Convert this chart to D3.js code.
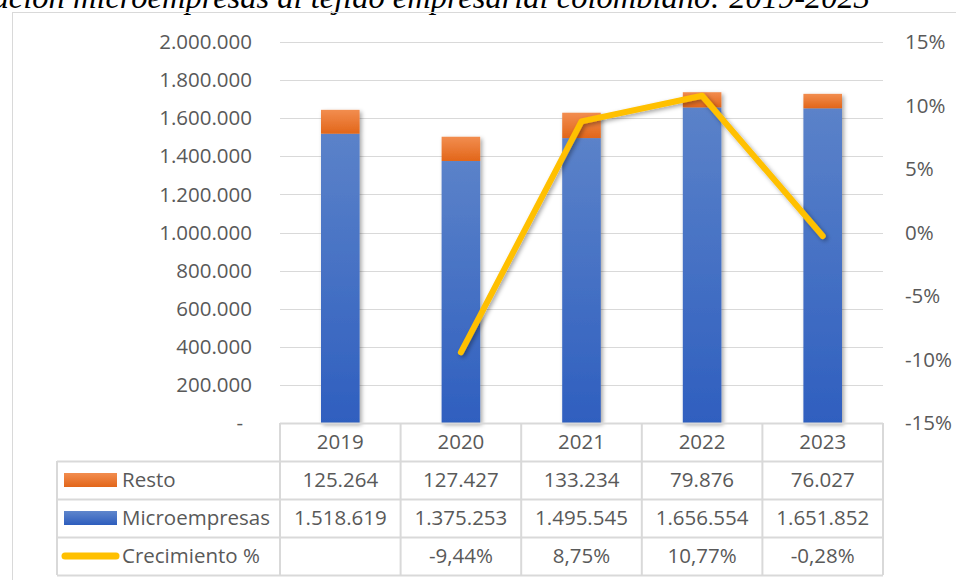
<!DOCTYPE html>
<html>
<head>
<meta charset="utf-8">
<script src="https://cdn.jsdelivr.net/npm/d3@7"></script>
<style>
  body { margin: 0; background: #fff; }
  text { font-family: "Open Sans", Lato, sans-serif; fill: #595959; }
</style>
</head>
<body>
<svg id="chart" width="956" height="580"></svg>
<script>
// Datos del gráfico
var years = ["2019", "2020", "2021", "2022", "2023"];
var resto = [125264, 127427, 133234, 79876, 76027];
var micro = [1518619, 1375253, 1495545, 1656554, 1651852];
var crecimiento = [null, -9.44, 8.75, 10.77, -0.28];
var leftTicks = [0, 200000, 400000, 600000, 800000, 1000000, 1200000, 1400000, 1600000, 1800000, 2000000];
var rightTicks = [-15, -10, -5, 0, 5, 10, 15];
var seriesNames = ["Resto", "Microempresas", "Crecimiento %"];

var locale = d3.formatLocale({decimal: ",", thousands: ".", grouping: [3], currency: ["$", ""], minus: "-"});
var fmtNum = locale.format(",d");
var fmtPct = function(v) { return v == null ? "" : locale.format(",.2f")(v) + "%"; };

var svg = d3.select("#chart");
var fontSize = 20.5;

// Escalas
var plot = {left: 280, right: 883, top: 42, bottom: 423};
var x = d3.scaleBand().domain(years).range([plot.left, plot.right]).padding(0);
var yL = d3.scaleLinear().domain([0, 2000000]).range([plot.bottom, plot.top]);
var yR = d3.scaleLinear().domain([-15, 15]).range([plot.bottom, plot.top]);
var barWidth = x.bandwidth() * 0.32;

// Gradientes y sombras
var defs = svg.append("defs");
function grad(id, c1, c2) {
  var g = defs.append("linearGradient").attr("id", id)
    .attr("x1", 0).attr("y1", 0).attr("x2", 0).attr("y2", 1);
  g.append("stop").attr("offset", "0%").attr("stop-color", c1);
  g.append("stop").attr("offset", "100%").attr("stop-color", c2);
}
grad("gMicro", "#5f86cc", "#2d5dbd");
grad("gResto", "#f28d4f", "#e2661a");
grad("gMicroBar", "#5b82c9", "#2f5fbf");
var f = defs.append("filter").attr("id", "shadow")
  .attr("x", "-30%").attr("y", "-30%").attr("width", "160%").attr("height", "160%");
f.append("feDropShadow").attr("dx", 2).attr("dy", 2).attr("stdDeviation", 2)
  .attr("flood-color", "#000").attr("flood-opacity", 0.35);

// Título (cortado arriba)
svg.append("text")
  .attr("x", 870).attr("y", 8)
  .attr("text-anchor", "end")
  .style("font-family", "'Liberation Serif', 'Times New Roman', serif")
  .style("font-style", "italic")
  .style("font-size", "32.5px")
  .style("fill", "#000")
  .text("Evolución microempresas al tejido empresarial colombiano: 2019-2023");

// Borde del área del gráfico
svg.append("rect")
  .attr("x", 12.5).attr("y", 12.5).attr("width", 1000).attr("height", 600)
  .attr("fill", "none").attr("stroke", "#d9d9d9");

// Líneas de cuadrícula
svg.append("g").selectAll("line")
  .data(leftTicks.filter(function(d) { return d > 0; }))
  .enter().append("line")
  .attr("x1", plot.left).attr("x2", plot.right)
  .attr("y1", function(d) { return Math.round(yL(d)) + 0.5; })
  .attr("y2", function(d) { return Math.round(yL(d)) + 0.5; })
  .attr("stroke", "#d9d9d9").attr("stroke-width", 1);

// Etiquetas eje izquierdo
svg.append("g").selectAll("text")
  .data(leftTicks)
  .enter().append("text")
  .attr("x", function(d) { return d === 0 ? 243 : 252; })
  .attr("y", function(d) { return yL(d); })
  .attr("dy", "0.35em")
  .attr("text-anchor", "end")
  .style("font-size", fontSize + "px")
  .text(function(d) { return d === 0 ? "-" : fmtNum(d); });

// Etiquetas eje derecho
svg.append("g").selectAll("text")
  .data(rightTicks)
  .enter().append("text")
  .attr("x", 905)
  .attr("y", function(d) { return yR(d); })
  .attr("dy", "0.35em")
  .style("font-size", fontSize + "px")
  .text(function(d) { return d + "%"; });

// Barras apiladas
var rows = years.map(function(y, i) { return {year: y, Microempresas: micro[i], Resto: resto[i]}; });
var stacked = d3.stack().keys(["Microempresas", "Resto"])(rows);
var fills = {Microempresas: "url(#gMicroBar)", Resto: "url(#gResto)"};

var gBars = svg.append("g").attr("filter", "url(#shadow)");
stacked.forEach(function(s) {
  gBars.selectAll(".bar-" + s.key)
    .data(s)
    .enter().append("rect")
    .attr("x", function(d) { return x(d.data.year) + x.bandwidth() / 2 - barWidth / 2; })
    .attr("y", function(d) { return yL(d[1]); })
    .attr("width", barWidth)
    .attr("height", function(d) { return yL(d[0]) - yL(d[1]); })
    .attr("fill", fills[s.key]);
});

// Línea de crecimiento
var lineData = years.map(function(y, i) { return {year: y, v: crecimiento[i]}; })
  .filter(function(d) { return d.v != null; });
var line = d3.line()
  .x(function(d) { return x(d.year) + x.bandwidth() / 2; })
  .y(function(d) { return yR(d.v); });
svg.append("path")
  .datum(lineData)
  .attr("d", line)
  .attr("fill", "none")
  .attr("stroke", "#ffc000")
  .attr("stroke-width", 6)
  .attr("stroke-linecap", "round")
  .attr("stroke-linejoin", "round")
  .attr("filter", "url(#shadow)");

// Tabla de datos
var rowH = 38;
var tTop = plot.bottom;
var legLeft = 57;
var tbl = svg.append("g");
var gridColor = "#d9d9d9";

// líneas horizontales
[0, 1, 2, 3, 4].forEach(function(r) {
  tbl.append("line")
    .attr("x1", r === 0 ? plot.left : legLeft).attr("x2", plot.right)
    .attr("y1", tTop + r * rowH + 0.5).attr("y2", tTop + r * rowH + 0.5)
    .attr("stroke", gridColor).attr("stroke-width", 2);
});
// líneas verticales
tbl.append("line")
  .attr("x1", legLeft).attr("x2", legLeft)
  .attr("y1", tTop + rowH).attr("y2", tTop + 4 * rowH)
  .attr("stroke", gridColor).attr("stroke-width", 2);
years.concat(["end"]).forEach(function(y, i) {
  var xx = i < years.length ? x(y) : plot.right;
  tbl.append("line")
    .attr("x1", xx).attr("x2", xx)
    .attr("y1", tTop).attr("y2", tTop + 4 * rowH)
    .attr("stroke", gridColor).attr("stroke-width", 2);
});

// encabezados de años
tbl.selectAll(".hdr").data(years).enter().append("text")
  .attr("x", function(d) { return x(d) + x.bandwidth() / 2; })
  .attr("y", tTop + rowH / 2)
  .attr("dy", "0.35em")
  .attr("text-anchor", "middle")
  .style("font-size", fontSize + "px")
  .text(function(d) { return d; });

var tableRows = [
  resto.map(fmtNum),
  micro.map(fmtNum),
  crecimiento.map(fmtPct)
];
tableRows.forEach(function(vals, r) {
  var cy = tTop + (r + 1) * rowH + rowH / 2;
  tbl.selectAll(".r" + r).data(vals).enter().append("text")
    .attr("x", function(d, i) { return x(years[i]) + x.bandwidth() / 2; })
    .attr("y", cy)
    .attr("dy", "0.35em")
    .attr("text-anchor", "middle")
    .style("font-size", fontSize + "px")
    .text(function(d) { return d; });

  // leyenda
  if (r < 2) {
    tbl.append("rect")
      .attr("x", 64).attr("y", cy - 7)
      .attr("width", 53).attr("height", 14)
      .attr("fill", r === 0 ? "url(#gResto)" : "url(#gMicro)");
  } else {
    tbl.append("line")
      .attr("x1", 65).attr("x2", 116)
      .attr("y1", cy).attr("y2", cy)
      .attr("stroke", "#ffc000").attr("stroke-width", 7)
      .attr("stroke-linecap", "round");
  }
  tbl.append("text")
    .attr("x", 122).attr("y", cy)
    .attr("dy", "0.35em")
    .style("font-size", fontSize + "px")
    .text(seriesNames[r]);
});
</script>
</body>
</html>
